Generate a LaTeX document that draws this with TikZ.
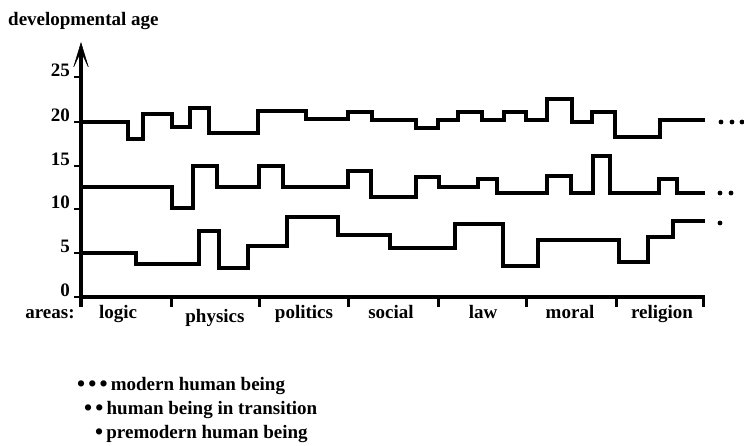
\documentclass[tikz,border=0pt]{standalone}
\usepackage{fontspec}
\setmainfont{Liberation Serif}
\usetikzlibrary{arrows.meta}
\newcommand{\bigbul}{\raisebox{-1pt}{\fontsize{23}{23}\selectfont •}}
\tikzset{
  lbl/.style={font=\fontsize{19}{22}\selectfont\bfseries, inner sep=0pt, anchor=base},
  ylbl/.style={lbl, anchor=base east},
  curve/.style={line width=3.2pt, line join=miter, line cap=butt},
  axisline/.style={line width=3.2pt},
  tickline/.style={line width=3pt},
  enddot/.style={fill=black, draw=none},
}
\begin{document}
\begin{tikzpicture}[x=1pt,y=-1pt]
\useasboundingbox (0,0) rectangle (744,446);
% title
\node[lbl, anchor=base west] (title) at (8,26) {developmental age};
% axes
\coordinate (ybot) at (81,307);
\coordinate (ytop) at (81,42);
\coordinate (xl) at (81,297);
\coordinate (xr) at (704.5,297);
\draw[axisline, -{Stealth[length=28pt,width=17pt,inset=18pt,line width=0.5pt]}] (ybot) -- (ytop);
\draw[axisline] (xl) -- (xr);
% y ticks and labels
\foreach \v/\yy in {0/297,5/253,10/209,15/166,20/122,25/77}{
  \draw[line width=2.5pt] (74,\yy) -- (81,\yy);
  \node[ylbl] (y\v) at (70,\yy) {\v};
}
% x ticks
\foreach \xx in {171,259,348,438,526,616,703}{
  \draw[tickline] (\xx,296) -- (\xx,307);
}
% area labels
\node[lbl] (areas) at (50,319) {areas:};
\node[lbl] (logic) at (118,319) {logic};
\node[lbl] (physics) at (215,322) {physics};
\node[lbl] (politics) at (304,319) {politics};
\node[lbl] (social) at (391,319) {social};
\node[lbl] (law) at (483,319) {law};
\node[lbl] (moral) at (570,319) {moral};
\node[lbl] (religion) at (662,319) {religion};
% curves
\draw[curve] (81,122) -| (128,139) -| (143,114) -| (172,127) -| (190,108) -| (209,133)
  -| (258,111) -| (306,119) -| (348,112) -| (372,120) -| (416,128) -| (438,120)
  -| (458,112) -| (482,120) -| (504,112) -| (526,120) -| (547,99) -| (572,122)
  -| (592,112) -| (615,137) -| (660,120) -- (705,120);
\draw[curve] (81,187) -| (172,208) -| (193,166) -| (217,187) -| (259,166) -| (283,187)
  -| (348,171) -| (371,197) -| (416,177) -| (439,187) -| (478,179) -| (497,193)
  -| (547,176) -| (571,193) -| (593,156) -| (610,193) -| (659,179) -| (677,193) -- (705,193);
\draw[curve] (81,253) -| (136,264) -| (199,231) -| (219,268) -| (248,246) -| (287,217)
  -| (338,235) -| (390,248) -| (455,224) -| (503,266) -| (538,240) -| (619,262)
  -| (648,237) -| (673,221) -- (705,221);
% end dots
\foreach \xx in {721,732,742}{\fill[enddot] (\xx,122) circle (2.4);}
\foreach \xx in {720,731}{\fill[enddot] (\xx,193) circle (2.4);}
\fill[enddot] (720,223) circle (2.4);
% legend
\node[lbl, anchor=base west] (leg1) at (77,390) {\bigbul\,\bigbul\,\bigbul\,modern human being};
\node[lbl, anchor=base west] (leg2) at (84,414) {\bigbul\,\bigbul\,human being in transition};
\node[lbl, anchor=base west] (leg3) at (95,438) {\bigbul\,premodern human being};
\end{tikzpicture}
\end{document}
